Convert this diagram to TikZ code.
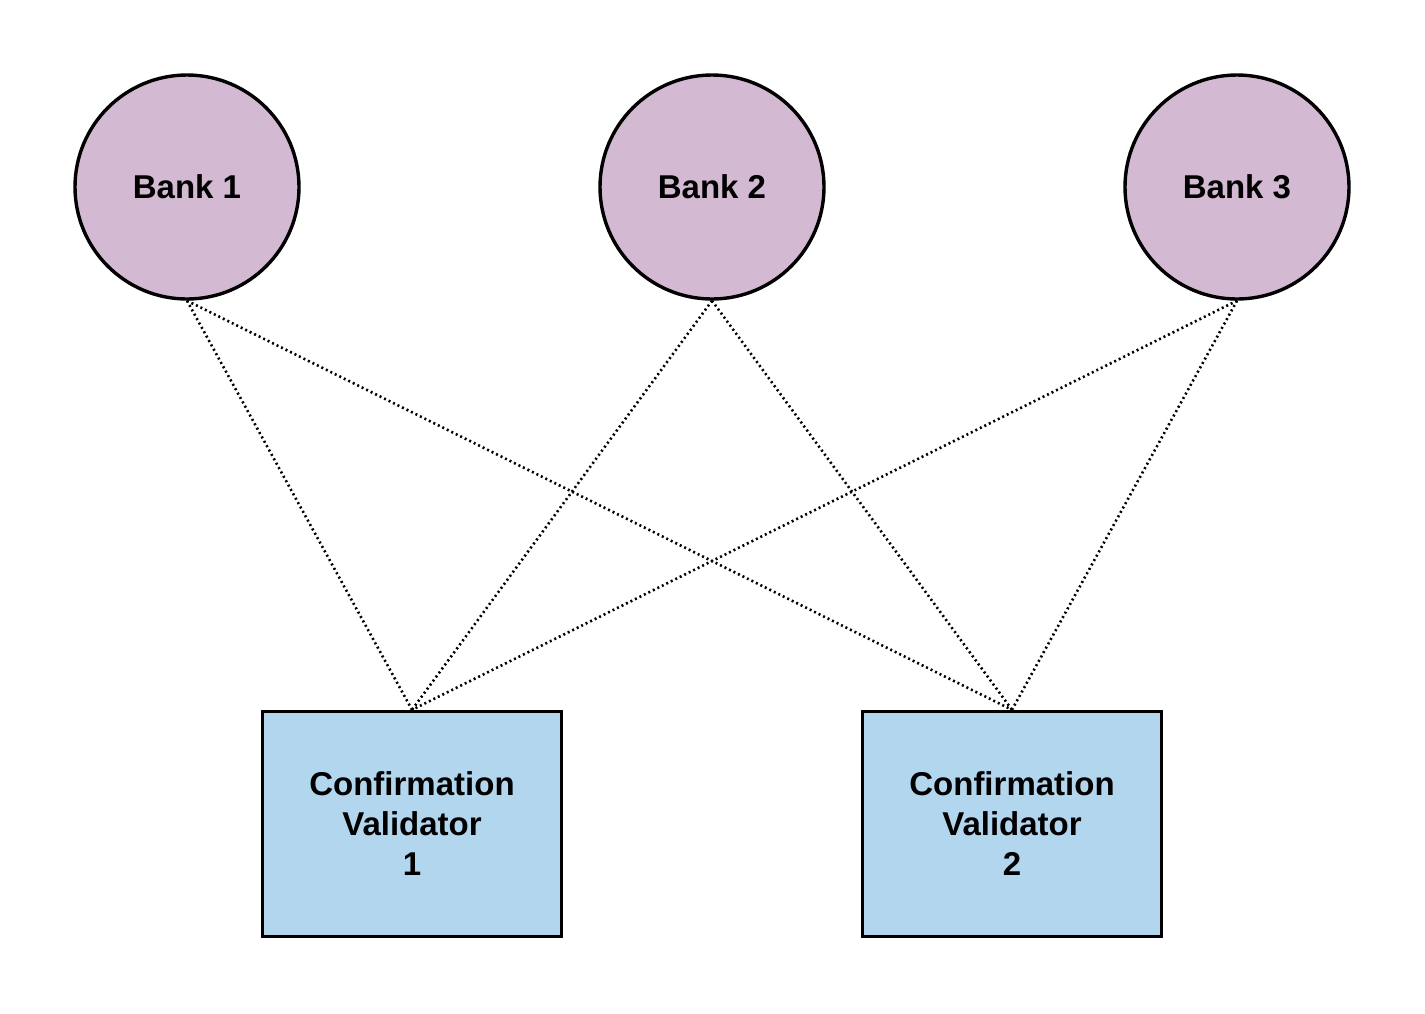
\documentclass[tikz,border=0pt]{standalone}
\usepackage{fontspec}
\setmainfont{Liberation Sans}
\definecolor{bankfill}{HTML}{D3BAD2}
\definecolor{valfill}{HTML}{B3D6EF}
\begin{document}
\begin{tikzpicture}[x=1pt,y=-1pt,
  bank/.style={circle,draw=black,line width=3.4pt,fill=bankfill,minimum size=224pt,inner sep=0pt,font=\bfseries\fontsize{33}{40}\selectfont},
  validator/.style={rectangle,draw=black,line width=3.4pt,fill=valfill,minimum width=299pt,minimum height=225pt,inner sep=0pt,align=center,font=\bfseries\fontsize{33}{40}\selectfont},
  link/.style={line width=2.6pt,dash pattern=on 2pt off 3pt,black}]
\useasboundingbox (0,0) rectangle (1425,1013);
\node[bank] (b1) at (187,187) {Bank 1};
\node[bank] (b2) at (712,187) {Bank 2};
\node[bank] (b3) at (1237,187) {Bank 3};
\node[validator] (v1) at (412,824) {Confirmation\\Validator\\1};
\node[validator] (v2) at (1012,824) {Confirmation\\Validator\\2};
\draw[link] (b1.south) -- (v1.north);
\draw[link] (b1.south) -- (v2.north);
\draw[link] (b2.south) -- (v1.north);
\draw[link] (b2.south) -- (v2.north);
\draw[link] (b3.south) -- (v1.north);
\draw[link] (b3.south) -- (v2.north);
\end{tikzpicture}
\end{document}
